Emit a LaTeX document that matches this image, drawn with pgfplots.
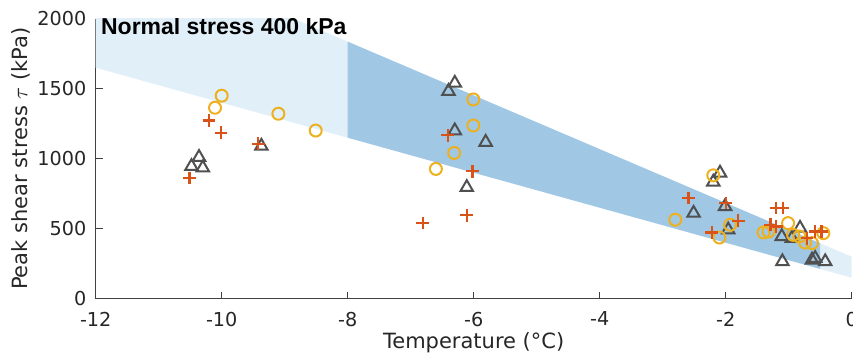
\documentclass[border=0pt]{standalone}
\usepackage{pgfplots}
\pgfplotsset{compat=1.18}
\usepackage{pgfplotstable}
\usepackage{fontspec}
\setmainfont{DejaVu Sans}
\newfontfamily\titlefont{Liberation Sans}
\definecolor{lightband}{RGB}{225,239,249}
\definecolor{darkband}{RGB}{160,200,228}
\definecolor{mplus}{RGB}{217,83,25}
\definecolor{mcirc}{RGB}{237,177,32}
\definecolor{mtri}{RGB}{80,80,80}
\definecolor{axcol}{RGB}{64,64,64}

\pgfplotstableread{
T V
-10.20 1273
-10.01 1185
-9.42 1106
-10.51 862
-6.41 1168
-6.02 910
-6.11 595
-6.81 540
-2.59 719
-2.00 683
-1.80 557
-2.22 473
-1.20 648
-1.095 648
-1.29 528
-1.20 516
-0.71 432
-0.58 480
-0.48 480
}\pluses

\pgfplotstableread{
T V
-10.00 1450
-10.106 1364
-9.10 1321
-8.508 1201
-6.006 1423
-6.006 1237
-6.31 1041
-6.60 927
-2.197 881
-2.80 564
-1.93 528
-2.10 437
-1.40 473
-1.32 480
-1.01 540
-0.93 456
-0.83 444
-0.74 401
-0.45 468
-0.63 397
}\circles

\pgfplotstableread{
T V
-10.36 1010
-10.48 945
-10.30 935
-9.37 1090
-6.30 1540
-6.40 1482
-6.30 1200
-5.81 1118
-6.11 795
-2.09 898
-2.197 833
-2.51 611
-2.01 659
-1.96 492
-1.11 444
-0.82 504
-0.95 432
-1.10 265
-0.63 277
-0.42 265
-0.58 289
}\triangles

\begin{document}
\begin{tikzpicture}
\begin{axis}[
  at={(0,0)}, anchor=south west,
  scale only axis, width=378pt, height=140pt,
  xmin=-12, xmax=0, ymin=0, ymax=2000,
  axis lines*=left,
  axis line style={axcol, line width=0.5pt},
  tick style={axcol, line width=0.5pt},
  tick align=inside,
  major tick length=3.5pt,
  xtick={-12,-10,-8,-6,-4,-2,0},
  ytick={0,500,1000,1500,2000},
  /pgf/number format/assume math mode=true,
  /pgf/number format/set thousands separator={},
  ticklabel style={font=\fontsize{9.6}{11}\selectfont, text=black!85},
  xticklabel style={yshift=-3pt},
  yticklabel style={xshift=-1.2pt},
  xlabel={Temperature (°C)},
  ylabel={Peak shear stress $\tau$ (kPa)},
  label style={font=\fontsize{10.5}{12}\selectfont, text=black!85},
  xlabel style={at={(axis description cs:0.5,-0.157)}, anchor=center},
  ylabel style={at={(axis description cs:-0.099,0.5)}, anchor=center},
  clip=true,
]
\addplot[fill=lightband, draw=none] coordinates {(-12,2604) (0,300) (0,150) (-12,1650)} -- cycle;
\addplot[fill=darkband, draw=none] coordinates {(-8,1836) (-0.5,396) (-0.5,212.5) (-8,1150)} -- cycle;
\addplot[only marks, mark=triangle, mark size=3.6pt, mark options={draw=mtri, line width=1pt, fill=none}] table[x=T,y=V] {\triangles};
\addplot[only marks, mark=o, mark size=3pt, mark options={draw=mcirc, line width=1pt}] table[x=T,y=V] {\circles};
\addplot[only marks, mark=+, mark size=3.2pt, mark options={draw=mplus, line width=1.1pt}] table[x=T,y=V] {\pluses};
\node[anchor=north west, inner sep=0pt, font=\titlefont\bfseries\fontsize{11.5}{13}\selectfont] at (rel axis cs:0,1) [xshift=2.5pt, yshift=0.5pt] {Normal stress 400 kPa};
\end{axis}
\pgfresetboundingbox
\path[use as bounding box] (-47.85pt,-28.65pt) rectangle (378.65pt,149.35pt);
\end{tikzpicture}
\end{document}
